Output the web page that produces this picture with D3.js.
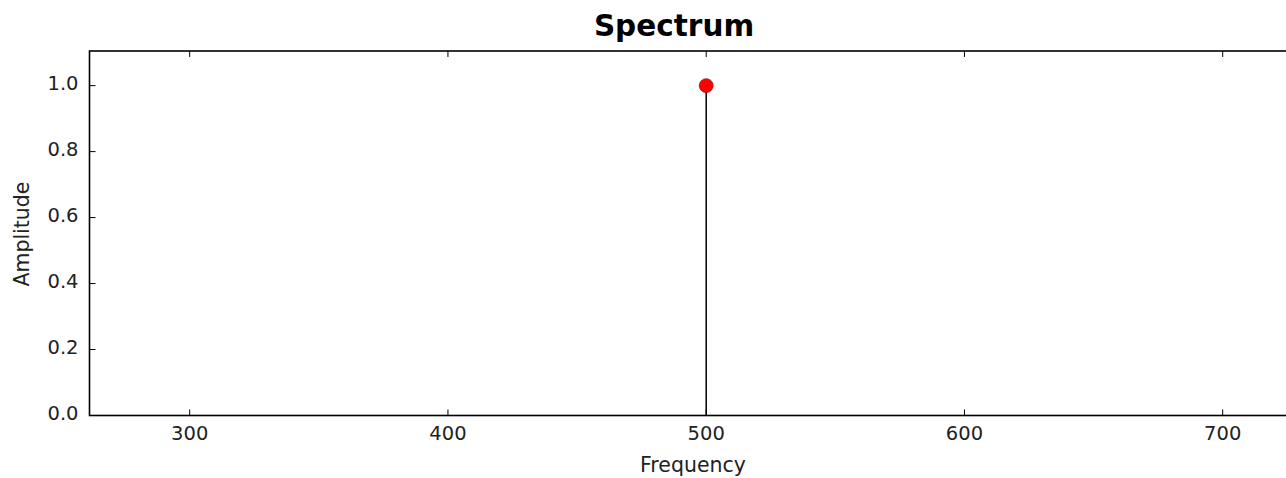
<!DOCTYPE html>
<html>
<head>
<meta charset="utf-8">
<script src="https://cdn.jsdelivr.net/npm/d3@7"></script>
<style>
  body { margin: 0; background: #fff; }
  svg { display: block; }
  .ticktext { font-family: "DejaVu Sans", sans-serif; font-size: 19.5px; fill: #222; }
  .graphtext { font-family: "DejaVu Sans", sans-serif; font-size: 20.5px; fill: #222; }
  .titletext { font-family: "DejaVu Sans", sans-serif; font-size: 29.5px; font-weight: bold; fill: #000; }
</style>
</head>
<body>
<div id="spectrum_plot"></div>
<script>
// data
var freqs = [500];
var amps = [1.0];
var xTicks = [300, 400, 500, 600, 700];
var yTicks = [0.0, 0.2, 0.4, 0.6, 0.8, 1.0];
var xDomain = [261.2, 740];
var yDomain = [0, 1.105];

function make_spectrum_plot() {
    var W = 1286, H = 478;
    var svg = d3.select("#spectrum_plot").append("svg")
        .attr("width", W)
        .attr("height", H);

    var left = 89.5, top = 51, bottom = 415.5;
    var pxPer100 = 258.25;
    var right = left + (xDomain[1] - xDomain[0]) / 100 * pxPer100;

    var xScale = d3.scaleLinear(xDomain, [left, right]);
    var yScale = d3.scaleLinear(yDomain, [bottom, top]);

    // stems
    svg.selectAll("line.stem").data(freqs).enter().append("line")
        .attr("class", "stem")
        .attr("x1", (d) => xScale(d))
        .attr("x2", (d) => xScale(d))
        .attr("y1", yScale(0))
        .attr("y2", (d, i) => yScale(amps[i]))
        .attr("stroke", "#000")
        .attr("stroke-width", 1.5);

    // ticks, inward, on all sides
    var tickLen = 6;
    svg.selectAll("line.xtick").data(xTicks).enter().append("line")
        .attr("x1", (d) => xScale(d)).attr("x2", (d) => xScale(d))
        .attr("y1", bottom).attr("y2", bottom - tickLen)
        .attr("stroke", "#000").attr("stroke-width", 1);
    svg.selectAll("line.xtick2").data(xTicks).enter().append("line")
        .attr("x1", (d) => xScale(d)).attr("x2", (d) => xScale(d))
        .attr("y1", top).attr("y2", top + tickLen)
        .attr("stroke", "#000").attr("stroke-width", 1);
    svg.selectAll("line.ytick").data(yTicks).enter().append("line")
        .attr("x1", left).attr("x2", left + tickLen)
        .attr("y1", (d) => yScale(d)).attr("y2", (d) => yScale(d))
        .attr("stroke", "#000").attr("stroke-width", 1);

    // markers
    svg.selectAll("circle.mark").data(freqs).enter().append("circle")
        .attr("cx", (d) => xScale(d))
        .attr("cy", (d, i) => yScale(amps[i]))
        .attr("r", 7)
        .attr("fill", "#ff0000")
        .attr("stroke", "#8a0000")
        .attr("stroke-width", 0.6);

    // frame
    svg.append("rect")
        .attr("x", left).attr("y", top)
        .attr("width", right - left).attr("height", bottom - top)
        .attr("fill", "none")
        .attr("stroke", "#000")
        .attr("stroke-width", 1.6);

    // tick labels
    svg.selectAll("text.xl").data(xTicks).enter().append("text")
        .attr("class", "ticktext")
        .attr("x", (d) => xScale(d))
        .attr("y", 440)
        .attr("text-anchor", "middle")
        .text((d) => d3.format("d")(d));
    svg.selectAll("text.yl").data(yTicks).enter().append("text")
        .attr("class", "ticktext")
        .attr("x", left - 11)
        .attr("y", (d) => yScale(d) - 2)
        .attr("dy", "0.35em")
        .attr("text-anchor", "end")
        .text((d) => d3.format(".1f")(d));

    // labels
    svg.append("text")
        .attr("class", "graphtext")
        .attr("x", 693)
        .attr("y", 472)
        .attr("text-anchor", "middle")
        .text("Frequency");
    svg.append("text")
        .attr("class", "graphtext")
        .attr("transform", "translate(28.5," + yScale(0.55) + ") rotate(-90)")
        .attr("text-anchor", "middle")
        .text("Amplitude");
    svg.append("text")
        .attr("class", "titletext")
        .attr("x", 674)
        .attr("y", 36)
        .attr("text-anchor", "middle")
        .text("Spectrum");
}

make_spectrum_plot();
</script>
</body>
</html>
